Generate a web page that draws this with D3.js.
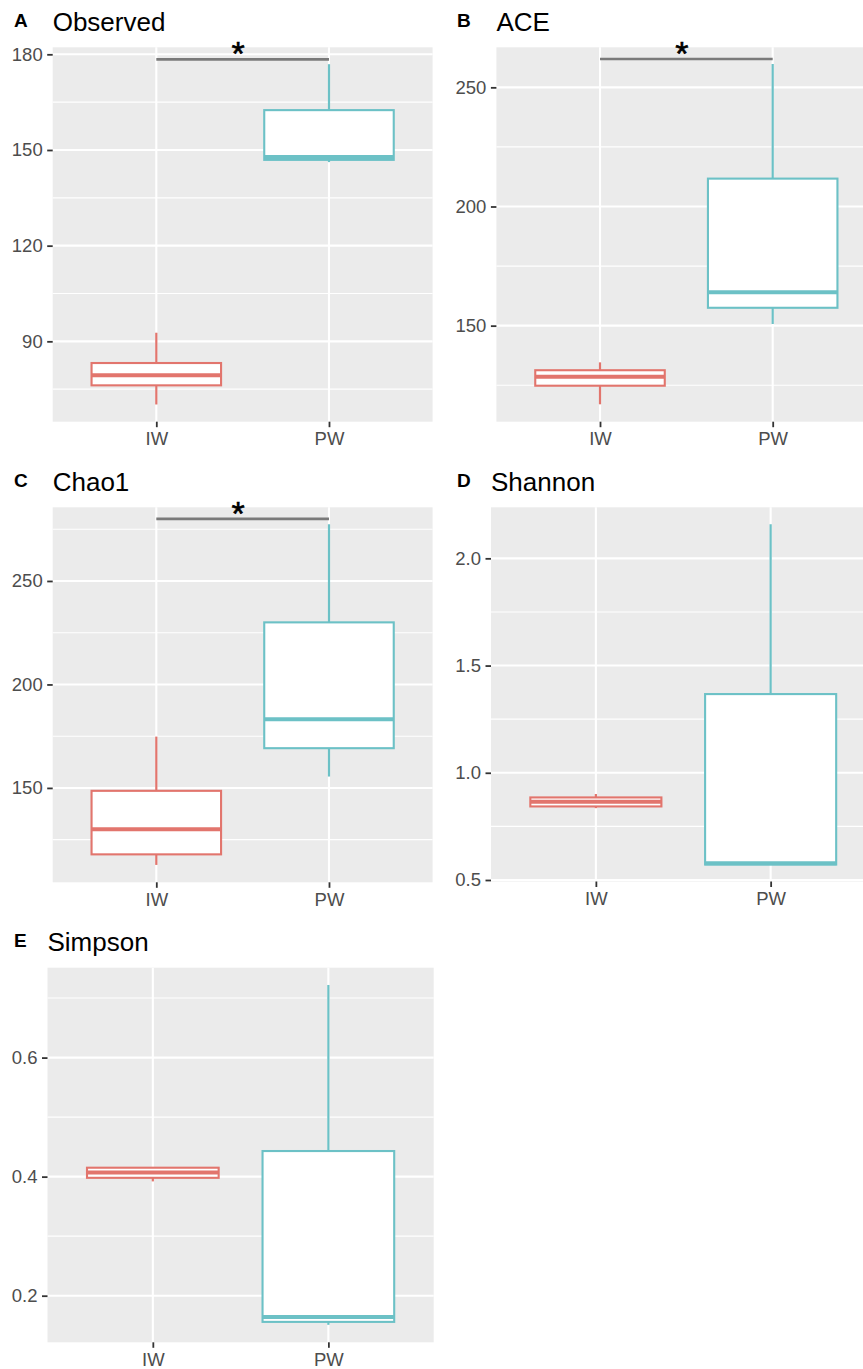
<!DOCTYPE html>
<html>
<head>
<meta charset="utf-8">
<script src="https://cdn.jsdelivr.net/npm/d3@7"></script>
<style>
  html, body { margin: 0; padding: 0; background: #ffffff; }
  svg { display: block; }
  text { font-family: "Liberation Sans", Arial, Helvetica, sans-serif; }
</style>
</head>
<body>
<svg id="chart" width="863" height="1369"></svg>
<script>
// ---------------- data ----------------
const groups = ["IW", "PW"];
const panelLabels = ["A", "B", "C", "D", "E"];
const metricNames = ["Observed", "ACE", "Chao1", "Shannon", "Simpson"];

// five-number summaries: [lower whisker, Q1, median, Q3, upper whisker]
const observedIW = [70.2, 76.2, 79.4, 83.2, 92.7];
const observedPW = [146.2, 146.9, 147.8, 162.5, 176.9];
const aceIW      = [117.0, 124.8, 128.6, 131.3, 134.6];
const acePW      = [150.7, 157.5, 164.0, 211.7, 259.8];
const chao1IW    = [112.8, 117.9, 130.0, 148.6, 174.8];
const chao1PW    = [155.5, 169.2, 183.2, 230.0, 277.4];
const shannonIW  = [0.835, 0.843, 0.865, 0.885, 0.901];
const shannonPW  = [0.570, 0.572, 0.578, 1.367, 2.159];
const simpsonIW  = [0.392, 0.398, 0.407, 0.415, 0.416];
const simpsonPW  = [0.151, 0.156, 0.164, 0.443, 0.722];

// y-axis limits, ticks
const observedDomain = [64.8, 182.2];
const aceDomain      = [109.7, 266.8];
const chao1Domain    = [104.4, 285.6];
const shannonDomain  = [0.493, 2.238];
const simpsonDomain  = [0.1217, 0.751];

const observedTicks = [90, 120, 150, 180];
const aceTicks      = [150, 200, 250];
const chao1Ticks    = [150, 200, 250];
const shannonTicks  = [0.5, 1.0, 1.5, 2.0];
const simpsonTicks  = [0.2, 0.4, 0.6];

const observedMinor = [75, 105, 135, 165];
const aceMinor      = [125, 175, 225];
const chao1Minor    = [125, 175, 225, 275];
const shannonMinor  = [0.75, 1.25, 1.75];
const simpsonMinor  = [0.3, 0.5, 0.7];

// significance bar heights (null = none) and label
const sigLevels = [178.4, 261.9, 280.0, null, null];
const sigLabel = "*";

// ---------------- layout & styles ----------------
const layout = [
  { left: 52.7,  right: 432.6, top: 47.3,  bottom: 421.7, labelX: 14 },
  { left: 496.4, right: 876.3, top: 47.3,  bottom: 421.7, labelX: 457 },
  { left: 52.7,  right: 432.6, top: 507.3, bottom: 882.3, labelX: 14 },
  { left: 491.0, right: 875.5, top: 507.3, bottom: 881.5, labelX: 457 },
  { left: 47.5,  right: 433.7, top: 967.7, bottom: 1342.3, labelX: 14 }
];
const colors = { IW: "#E2756D", PW: "#6CC1C6" };
const panelBg = "#EBEBEB";

const panels = [
  { stats: [observedIW, observedPW], domain: observedDomain, ticks: observedTicks, minor: observedMinor, fmt: d3.format("d") },
  { stats: [aceIW, acePW],           domain: aceDomain,      ticks: aceTicks,      minor: aceMinor,      fmt: d3.format("d") },
  { stats: [chao1IW, chao1PW],       domain: chao1Domain,    ticks: chao1Ticks,    minor: chao1Minor,    fmt: d3.format("d") },
  { stats: [shannonIW, shannonPW],   domain: shannonDomain,  ticks: shannonTicks,  minor: shannonMinor,  fmt: d3.format(".1f") },
  { stats: [simpsonIW, simpsonPW],   domain: simpsonDomain,  ticks: simpsonTicks,  minor: simpsonMinor,  fmt: d3.format(".1f") }
];

const svg = d3.select("#chart");
const FONT = "'Liberation Sans', Arial, Helvetica, sans-serif";

panels.forEach((p, i) => {
  const L = layout[i];
  const g = svg.append("g");

  const x = d3.scalePoint().domain(groups).range([L.left, L.right]).padding(0.6);
  const y = d3.scaleLinear().domain(p.domain).range([L.bottom, L.top]);
  const boxW = x.step() * 0.75;

  // panel background
  g.append("rect")
    .attr("x", L.left).attr("y", L.top)
    .attr("width", L.right - L.left).attr("height", L.bottom - L.top)
    .attr("fill", panelBg);

  // minor grid
  g.selectAll(".minor").data(p.minor).join("line")
    .attr("x1", L.left).attr("x2", L.right)
    .attr("y1", d => y(d)).attr("y2", d => y(d))
    .attr("stroke", "#ffffff").attr("stroke-width", 1.1);

  // major grid (y)
  g.selectAll(".major").data(p.ticks).join("line")
    .attr("x1", L.left).attr("x2", L.right)
    .attr("y1", d => y(d)).attr("y2", d => y(d))
    .attr("stroke", "#ffffff").attr("stroke-width", 2.1);

  // major grid (x)
  g.selectAll(".vmajor").data(groups).join("line")
    .attr("x1", d => x(d)).attr("x2", d => x(d))
    .attr("y1", L.top).attr("y2", L.bottom)
    .attr("stroke", "#ffffff").attr("stroke-width", 2.1);

  // boxplots
  groups.forEach((grp, k) => {
    const s = p.stats[k];
    const cx = x(grp);
    const col = colors[grp];
    const bg = g.append("g");
    bg.append("line").attr("x1", cx).attr("x2", cx)
      .attr("y1", y(s[3])).attr("y2", y(s[4]))
      .attr("stroke", col).attr("stroke-width", 2.2);
    bg.append("line").attr("x1", cx).attr("x2", cx)
      .attr("y1", y(s[1])).attr("y2", y(s[0]))
      .attr("stroke", col).attr("stroke-width", 2.2);
    bg.append("rect")
      .attr("x", cx - boxW / 2).attr("width", boxW)
      .attr("y", y(s[3])).attr("height", y(s[1]) - y(s[3]))
      .attr("fill", "#ffffff").attr("stroke", col).attr("stroke-width", 2.1);
    bg.append("line")
      .attr("x1", cx - boxW / 2).attr("x2", cx + boxW / 2)
      .attr("y1", y(s[2])).attr("y2", y(s[2]))
      .attr("stroke", col).attr("stroke-width", 4);
  });

  // significance bar
  if (sigLevels[i] !== null) {
    const sy = y(sigLevels[i]);
    g.append("line")
      .attr("x1", x(groups[0])).attr("x2", x(groups[1]))
      .attr("y1", sy).attr("y2", sy)
      .attr("stroke", "#7A7A7A").attr("stroke-width", 2.6);
    g.append("text")
      .attr("x", (x(groups[0]) + x(groups[1])) / 2 - 4.5)
      .attr("y", sy + 6)
      .attr("text-anchor", "middle")
      .attr("font-size", 34)
      .attr("stroke", "#000000").attr("stroke-width", 0.6)
      .attr("fill", "#000000")
      .text(sigLabel);
  }

  // y axis
  const yAxis = d3.axisLeft(y).tickValues(p.ticks).tickFormat(p.fmt).tickSize(5.5).tickPadding(4.5);
  const ya = g.append("g").attr("transform", `translate(${L.left},0)`).call(yAxis);
  ya.select(".domain").remove();
  ya.selectAll(".tick line").attr("stroke", "#333333").attr("stroke-width", 1.8);
  ya.selectAll(".tick text").attr("fill", "#4D4D4D").attr("font-size", 18.5)
    .attr("font-family", FONT);

  // x axis
  const xAxis = d3.axisBottom(x).tickSize(5.5).tickPadding(5);
  const xa = g.append("g").attr("transform", `translate(0,${L.bottom})`).call(xAxis);
  xa.select(".domain").remove();
  xa.selectAll(".tick line").attr("stroke", "#333333").attr("stroke-width", 1.8);
  xa.selectAll(".tick text").attr("fill", "#4D4D4D").attr("font-size", 18.5)
    .attr("font-family", FONT);

  // title
  const titleBase = L.top - 16.8;
  g.append("text")
    .attr("x", L.left).attr("y", titleBase)
    .attr("font-size", 26).attr("fill", "#000000")
    .text(metricNames[i]);

  // panel tag
  g.append("text")
    .attr("x", L.labelX).attr("y", titleBase - 3.5)
    .attr("font-size", 19).attr("font-weight", "bold").attr("fill", "#000000")
    .text(panelLabels[i]);
});
</script>
</body>
</html>
